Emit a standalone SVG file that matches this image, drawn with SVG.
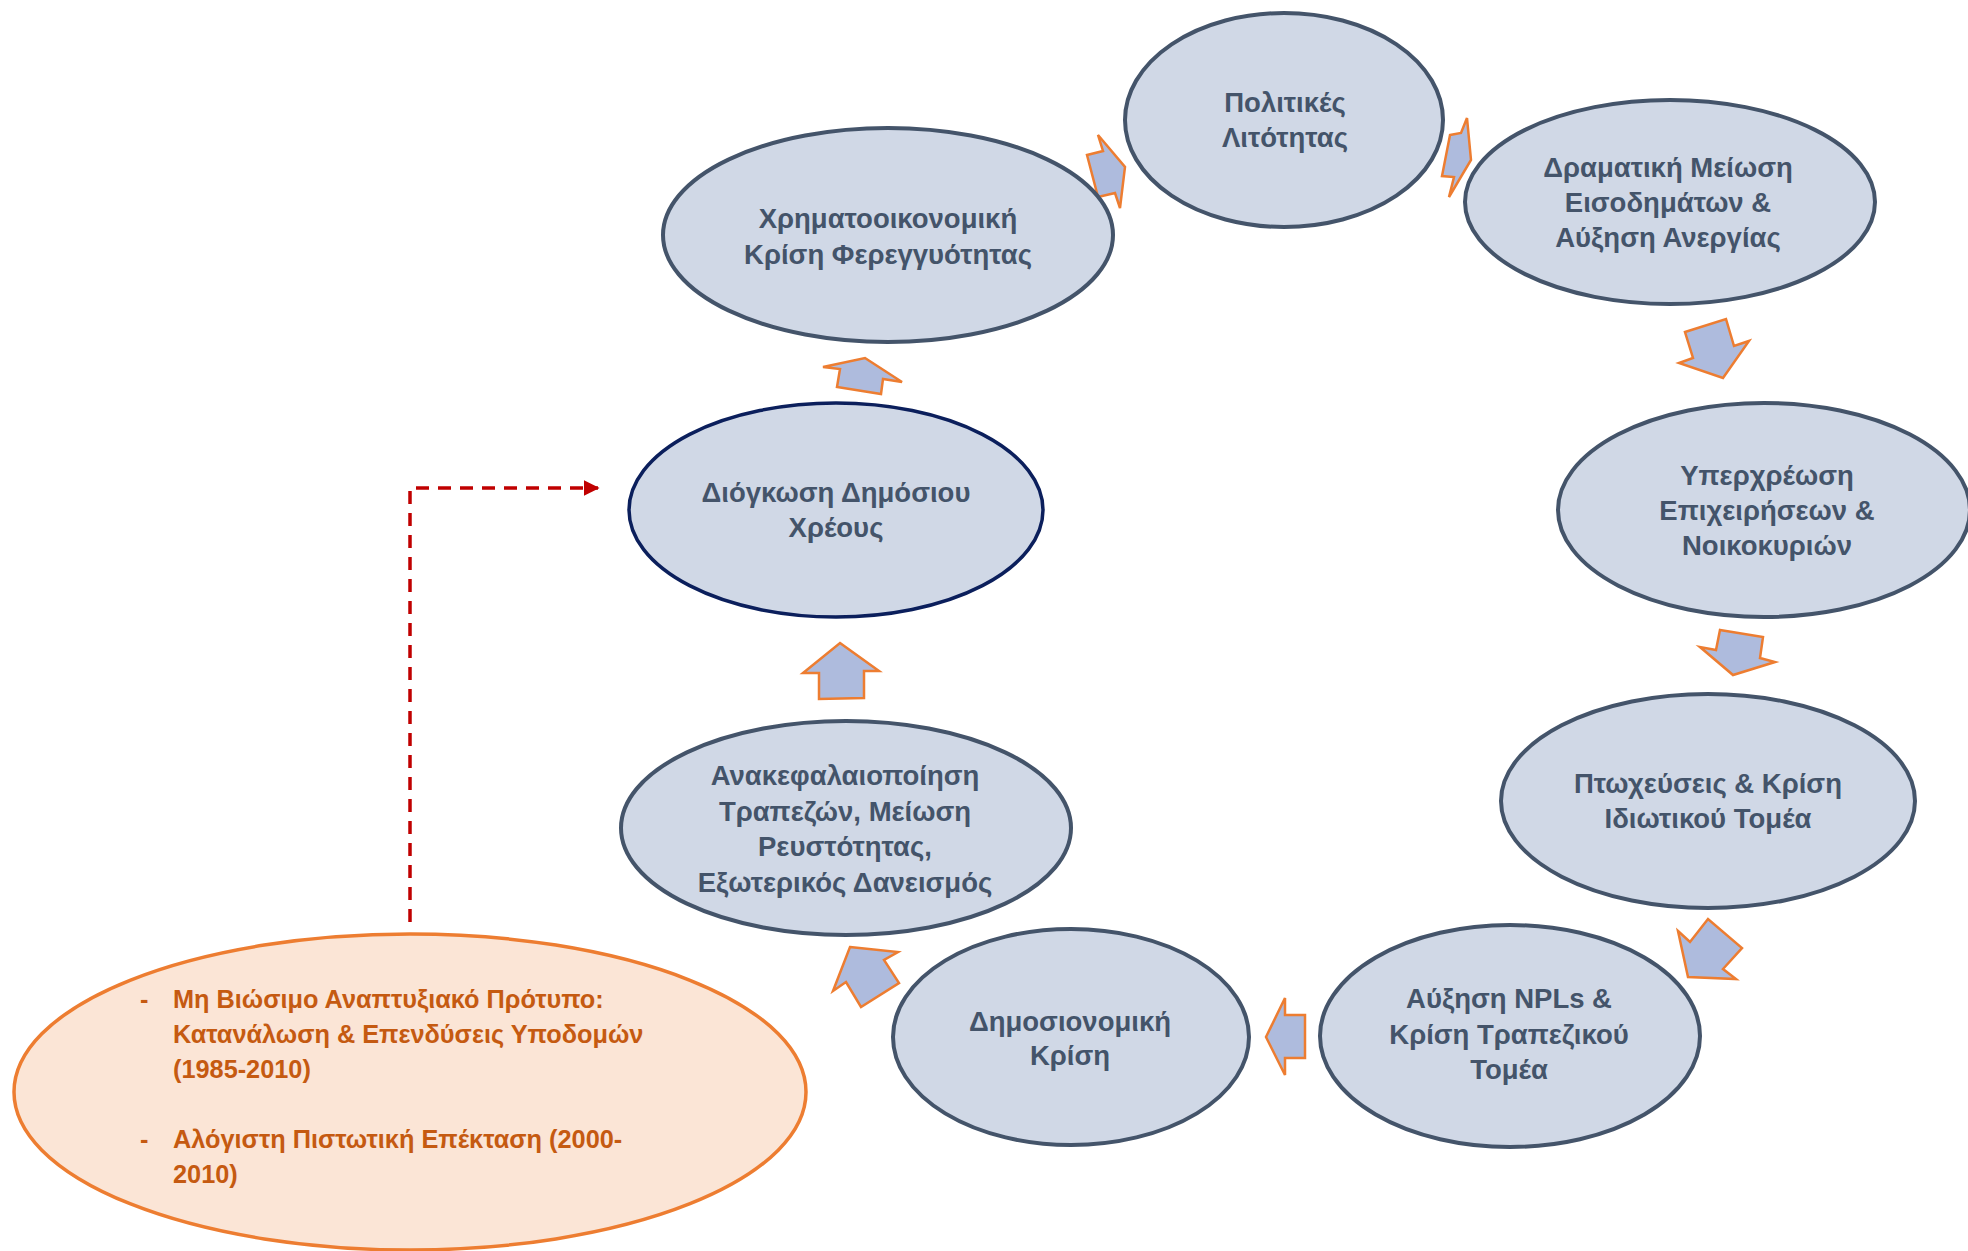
<svg xmlns="http://www.w3.org/2000/svg" width="1968" height="1251" viewBox="0 0 1968 1251">
<defs>
<style>
.node{fill:#D0D8E6;stroke:#44546A;stroke-width:4}
.node-dark{fill:#D0D8E6;stroke:#0B1F5C;stroke-width:3.5}
.lbl{font-family:"Liberation Sans",Arial,sans-serif;font-weight:bold;font-size:27.5px;fill:#44546A;text-anchor:middle}
.blk{fill:#AEBBDD;stroke:#ED7D31;stroke-width:2.5;stroke-linejoin:miter}
.cause{fill:#FBE5D6;stroke:#ED7D31;stroke-width:3.5}
.ctext{font-family:"Liberation Sans",Arial,sans-serif;font-weight:bold;font-size:25.3px;fill:#C55A11}
.dash{fill:none;stroke:#C00000;stroke-width:3.5;stroke-dasharray:13 9}
</style>
<marker id="redhead" viewBox="0 0 10 10" refX="9" refY="5" markerWidth="4.5" markerHeight="4.5" orient="auto">
<path d="M0,0 L10,5 L0,10 Z" fill="#C00000"/>
</marker>
</defs>
<rect width="1968" height="1251" fill="#FFFFFF"/>

<g id="connectors">
<polygon class="blk" points="1087,155 1103,151 1098,135 1125,167 1120,208 1115,193 1098,197"/>
<polygon class="blk" points="1450,135 1461,133 1467,118 1471,160 1449,197 1454,177 1442,176"/>
<polygon class="blk" points="1685,332 1726,319 1734,346 1749,341 1723,378 1679,363 1693,358"/>
<polygon class="blk" points="1720,630 1763,637 1760,658 1775,662 1733,675 1700,647 1716,650"/>
<polygon class="blk" points="1678,931 1690,942 1708,919 1742,948 1723,969 1736,979 1688,977"/>
<polygon class="blk" points="1285,998 1285,1015 1305,1015 1305,1058 1285,1058 1285,1075 1266,1037"/>
<polygon class="blk" points="850,947 898,952 884,960 899,983 861,1007 846,982 833,991"/>
<polygon class="blk" points="840,643 879,671 864,671 864,698 819,699 819,673 803,673"/>
<polygon class="blk" points="823,367 865,358 902,382 883,379 881,394 837,387 840,369"/>
<path class="dash" d="M410,922 L410,488 L598,488" marker-end="url(#redhead)"/>
</g>

<g id="n-politikes">
<ellipse class="node" cx="1284" cy="120" rx="159" ry="107"/>
<text class="lbl" x="1285" y="112">Πολιτικές</text>
<text class="lbl" x="1285" y="147">Λιτότητας</text>
</g>

<g id="n-xrimato">
<ellipse class="node" cx="888" cy="235" rx="225" ry="107"/>
<text class="lbl" x="888" y="228">Χρηματοοικονομική</text>
<text class="lbl" x="888" y="264">Κρίση Φερεγγυότητας</text>
</g>

<g id="n-dramatiki">
<ellipse class="node" cx="1670" cy="202" rx="205" ry="102"/>
<text class="lbl" x="1668" y="177">Δραματική Μείωση</text>
<text class="lbl" x="1668" y="212">Εισοδημάτων &amp;</text>
<text class="lbl" x="1668" y="247">Αύξηση Ανεργίας</text>
</g>

<g id="n-yperxreosi">
<ellipse class="node" cx="1764" cy="510" rx="206" ry="107"/>
<text class="lbl" x="1767" y="485">Υπερχρέωση</text>
<text class="lbl" x="1767" y="520">Επιχειρήσεων &amp;</text>
<text class="lbl" x="1767" y="555">Νοικοκυριών</text>
</g>

<g id="n-ptoxeuseis">
<ellipse class="node" cx="1708" cy="801" rx="207" ry="107"/>
<text class="lbl" x="1708" y="793">Πτωχεύσεις &amp; Κρίση</text>
<text class="lbl" x="1708" y="828">Ιδιωτικού Τομέα</text>
</g>

<g id="n-npls">
<ellipse class="node" cx="1510" cy="1036" rx="190" ry="111"/>
<text class="lbl" x="1509" y="1008">Αύξηση NPLs &amp;</text>
<text class="lbl" x="1509" y="1044">Κρίση Τραπεζικού</text>
<text class="lbl" x="1509" y="1079">Τομέα</text>
</g>

<g id="n-dimosionomiki">
<ellipse class="node" cx="1071" cy="1037" rx="178" ry="108"/>
<text class="lbl" x="1070" y="1031">Δημοσιονομική</text>
<text class="lbl" x="1070" y="1065">Κρίση</text>
</g>

<g id="n-anakef">
<ellipse class="node" cx="846" cy="828" rx="225" ry="107"/>
<text class="lbl" x="845" y="785">Ανακεφαλαιοποίηση</text>
<text class="lbl" x="845" y="821">Τραπεζών, Μείωση</text>
<text class="lbl" x="845" y="856">Ρευστότητας,</text>
<text class="lbl" x="845" y="892">Εξωτερικός Δανεισμός</text>
</g>

<g id="n-diogkosi">
<ellipse class="node-dark" cx="836" cy="510" rx="207" ry="107"/>
<text class="lbl" x="836" y="502">Διόγκωση Δημόσιου</text>
<text class="lbl" x="836" y="537">Χρέους</text>
</g>

<g id="n-causes">
<ellipse class="cause" cx="410" cy="1092" rx="396" ry="158"/>
<text class="ctext" x="140" y="1008">-</text>
<text class="ctext" x="173" y="1008">Μη Βιώσιμο Αναπτυξιακό Πρότυπο:</text>
<text class="ctext" x="173" y="1043">Κατανάλωση &amp; Επενδύσεις Υποδομών</text>
<text class="ctext" x="173" y="1078">(1985-2010)</text>
<text class="ctext" x="140" y="1148">-</text>
<text class="ctext" x="173" y="1148">Αλόγιστη Πιστωτική Επέκταση (2000-</text>
<text class="ctext" x="173" y="1183">2010)</text>
</g>
</svg>
